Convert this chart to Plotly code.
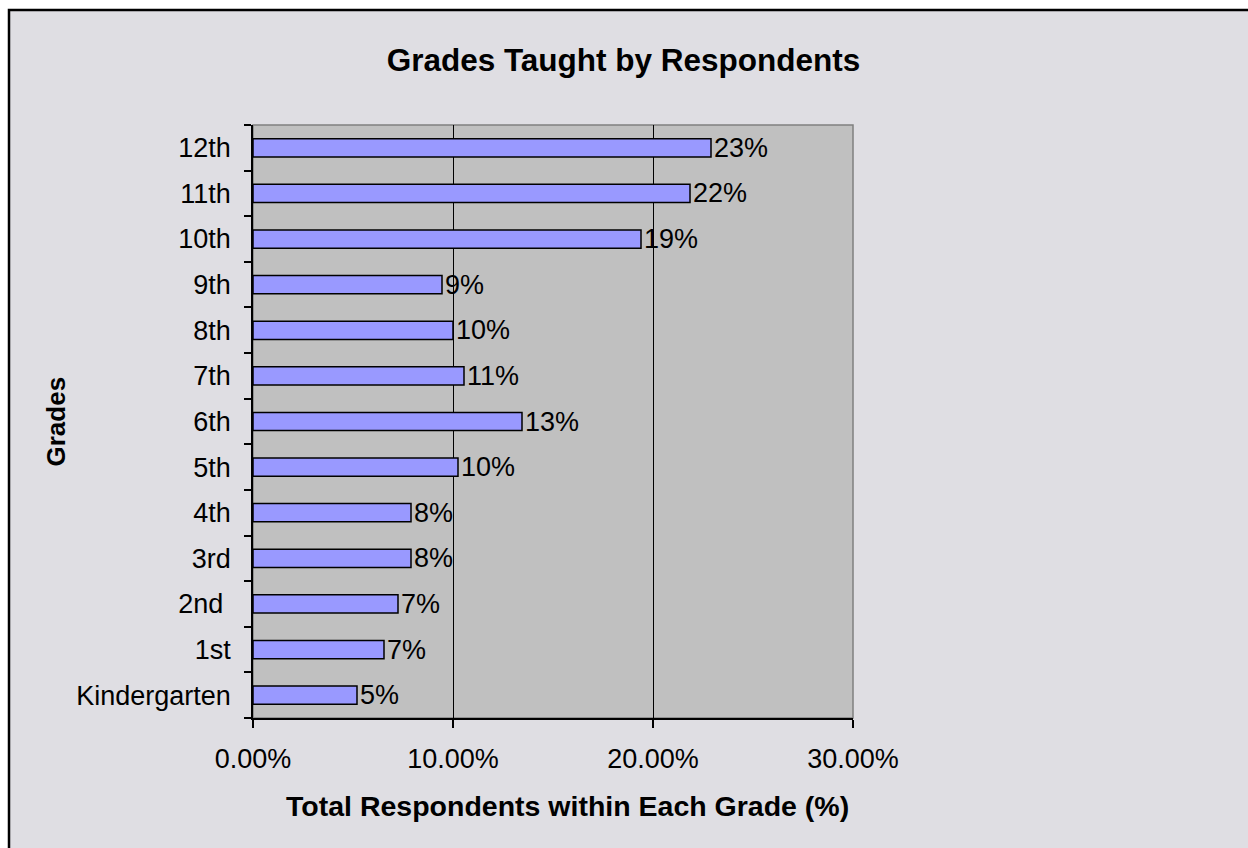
import plotly.graph_objects as go

grades = ["Kindergarten", "1st", "2nd ", "3rd", "4th", "5th", "6th", "7th", "8th", "9th", "10th", "11th", "12th"]
shares = [0.052, 0.0655, 0.0725, 0.079, 0.079, 0.1025, 0.1345, 0.1055, 0.100, 0.0945, 0.194, 0.2185, 0.229]
labels = ["5%", "7%", "7%", "8%", "8%", "10%", "13%", "11%", "10%", "9%", "19%", "22%", "23%"]
x_ticks = [0, 0.1, 0.2, 0.3]
x_ticktext = ["0.00%", "10.00%", "20.00%", "30.00%"]

FONT = "Liberation Sans, Arial, sans-serif"

fig = go.Figure(go.Bar(
    y=grades, x=shares, orientation="h",
    marker=dict(color="#9999FF", line=dict(color="black", width=1.5)),
    text=labels, textposition="outside", cliponaxis=False, constraintext="none",
    textfont=dict(family=FONT, size=27, color="black"),
))

# page coordinates (body margin removed)
W, H = 1248, 848
L, R, T, B = 253, 853, 125, 718
pw, ph = R - L, B - T

def px_x(p):
    return (p - L) / pw

def px_y(p):
    return (B - p) / ph

fig.update_layout(
    width=W, height=H,
    margin=dict(l=L, r=W - R, t=T, b=H - B, autoexpand=False),
    paper_bgcolor="white", plot_bgcolor="#C0C0C0",
    bargap=0.6, showlegend=False,
    font=dict(family=FONT, color="black"),
    title=dict(text="<b>Grades Taught by Respondents</b>", x=623.5 / W, xref="container",
               y=1 - 60 / H, yref="container", xanchor="center", yanchor="middle",
               font=dict(size=31.5, family=FONT, color="black")),
    xaxis=dict(range=[0, 0.3], tickvals=x_ticks, ticktext=x_ticktext,
               showgrid=True, gridcolor="black", gridwidth=1.3, zeroline=False,
               showline=True, linecolor="black", linewidth=1.5,
               ticks="outside", ticklen=8, tickcolor="black", tickwidth=1.5,
               tickfont=dict(size=27, family=FONT), ticklabelstandoff=8),
    yaxis=dict(showgrid=False, zeroline=False, showline=True, linecolor="black", linewidth=1.5,
               ticks="outside", ticklen=7, tickcolor="black", tickwidth=1.5,
               tickson="boundaries", tickfont=dict(size=27, family=FONT), ticklabelstandoff=15),
    annotations=[
        dict(text="<b>Grades</b>", xref="paper", yref="paper", x=px_x(55), y=0.5,
             xanchor="center", yanchor="middle", textangle=-90, showarrow=False,
             font=dict(size=26, family=FONT, color="black")),
        dict(text="<b>Total Respondents within Each Grade (%)</b>", xref="paper", yref="paper",
             x=px_x(567), y=px_y(806), xanchor="center", yanchor="middle", showarrow=False,
             font=dict(size=28.5, family=FONT, color="black")),
    ],
    shapes=[
        # chart area background with its frame
        dict(type="rect", xref="paper", yref="paper",
             x0=px_x(9), x1=px_x(1400), y0=px_y(1000), y1=px_y(10),
             fillcolor="#DFDEE3", line=dict(color="black", width=2.5), layer="below"),
        # plot area
        dict(type="rect", xref="paper", yref="paper", x0=0, x1=1, y0=0, y1=1,
             fillcolor="#C0C0C0", line=dict(color="#808080", width=1.5), layer="below"),
    ],
)

fig.write_html(
    "out.html",
    config={"displayModeBar": False},
    post_script=("document.documentElement.style.overflow='hidden';"
                 "document.body.style.overflow='hidden';document.body.style.margin='0';"),
)
